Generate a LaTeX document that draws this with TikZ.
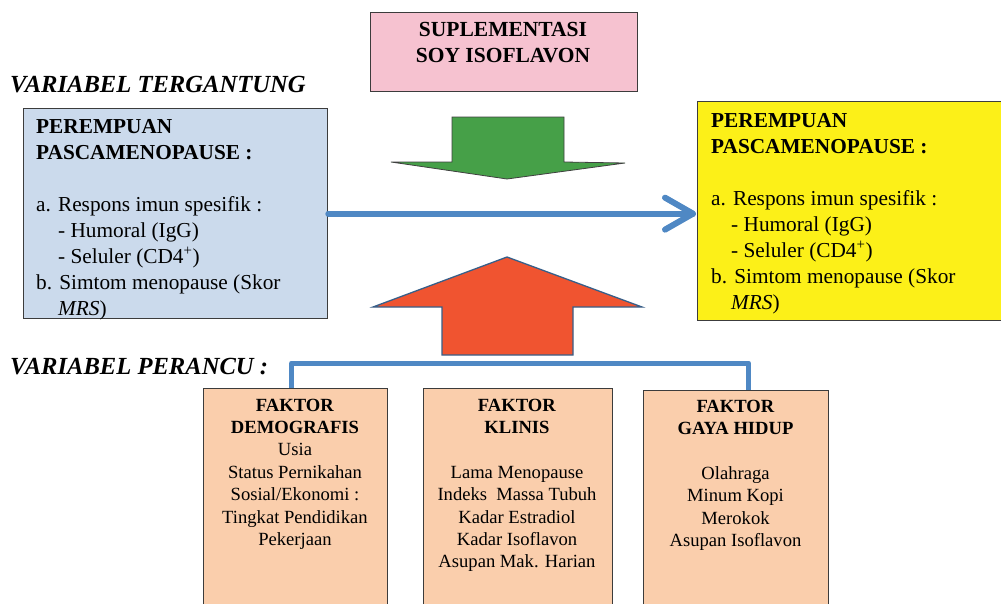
\documentclass[tikz,border=0pt]{standalone}
\usepackage{fontspec}
\setmainfont{Liberation Serif}
\usetikzlibrary{calc}
\definecolor{pinkfill}{RGB}{246,194,208}
\definecolor{bluefill}{RGB}{203,218,236}
\definecolor{yellowfill}{RGB}{252,240,24}
\definecolor{peachfill}{RGB}{250,206,172}
\definecolor{greenfill}{RGB}{70,160,72}
\definecolor{redfill}{RGB}{240,84,48}
\definecolor{linkblue}{RGB}{79,136,196}
\definecolor{edge}{RGB}{60,60,60}
\begin{document}
\begin{tikzpicture}[x=1pt,y=-1pt,
  box/.style={draw=edge,line width=1.3pt,anchor=north west,inner sep=0pt},
  bigtext/.style={anchor=north west,inner sep=0pt,align=left,font=\fontsize{21.3}{26}\selectfont},
  smalltext/.style={anchor=north,inner sep=0pt,align=center,font=\fontsize{18.6}{22.4}\selectfont},
  titletext/.style={anchor=base west,inner sep=0pt,font=\fontsize{24.6}{28}\selectfont\bfseries\itshape},
  harrow/.style={draw=linkblue,line width=6pt,line cap=round,line join=round},
  conn/.style={draw=linkblue,line width=5pt,line join=round}]
\useasboundingbox[fill=white] (0,0) rectangle (1001,603);

% top supplement box
\node[box,fill=pinkfill,minimum width=267pt,minimum height=79pt] (sup) at (370,12) {};
\node[anchor=north,inner sep=0pt,align=center,font=\fontsize{21.5}{26}\selectfont\bfseries] (suptxt) at (503,22.5) {SUPLEMENTASI\\SOY ISOFLAVON};

% titles
\node[titletext] (t1) at (10,92) {VARIABEL TERGANTUNG};
\node[titletext] (t2) at (10,374) {VARIABEL PERANCU :};

% dependent variable box
\node[box,fill=bluefill,minimum width=304pt,minimum height=210pt] (dep) at (23,108) {};
\node[bigtext] (deptxt) at (36,119) {\textbf{PEREMPUAN}\\\textbf{PASCAMENOPAUSE :}\\[26pt]a. Respons imun spesifik :\\\hspace*{22pt}- Humoral (IgG)\\\hspace*{22pt}- Seluler (CD4\textsuperscript{+})\\b. Simtom menopause (Skor\\\hspace*{22pt}\textit{MRS})};

% result box
\node[box,fill=yellowfill,minimum width=310pt,minimum height=219pt] (res) at (697,101) {};
\node[bigtext] (restxt) at (711,113) {\textbf{PEREMPUAN}\\\textbf{PASCAMENOPAUSE :}\\[26pt]a. Respons imun spesifik :\\\hspace*{20pt}- Humoral (IgG)\\\hspace*{20pt}- Seluler (CD4\textsuperscript{+})\\b. Simtom menopause (Skor\\\hspace*{20pt}\textit{MRS})};

% green down arrow
\filldraw[fill=greenfill,draw=black!75,line width=0.8pt,line join=miter]
  (452,117) -- (564,117) -- (564,162) -- (625,163) -- (507,179) -- (391,162) -- (452,162) -- cycle;

% red up arrow
\filldraw[fill=redfill,draw=linkblue!70!black,line width=1.3pt,line join=miter]
  (507,257) -- (642,307) -- (573,307) -- (573,355) -- (442,355) -- (442,307) -- (373,307) -- cycle;

% horizontal arrow
\coordinate (tip) at ($(dep.east -| res.west)+(-4pt,0)$);
\draw[harrow] (dep.east) -- (tip);
\draw[harrow] ($(tip)+(-28,-16)$) -- (tip) -- ($(tip)+(-28,16)$);

% confounder boxes
\node[box,fill=peachfill,minimum width=184pt,minimum height=230pt] (f1) at (203,388) {};
\node[box,fill=peachfill,minimum width=189pt,minimum height=230pt] (f2) at (423,388) {};
\node[box,fill=peachfill,minimum width=185pt,minimum height=230pt] (f3) at (643,390) {};

\node[smalltext] (f1txt) at (295,398.5) {\textbf{FAKTOR}\\\textbf{DEMOGRAFIS}\\Usia\\Status Pernikahan\\Sosial/Ekonomi :\\Tingkat Pendidikan\\Pekerjaan};
\node[smalltext] (f2txt) at (517,398.5) {\textbf{FAKTOR}\\\textbf{KLINIS}\\[22.4pt]Lama Menopause\\Indeks\ \ Massa Tubuh\\Kadar Estradiol\\Kadar Isoflavon\\Asupan Mak. Harian};
\node[smalltext] (f3txt) at (735.5,399.5) {\textbf{FAKTOR}\\\textbf{GAYA HIDUP}\\[22.4pt]Olahraga\\Minum Kopi\\Merokok\\Asupan Isoflavon};

% connector bracket
\draw[conn] ([xshift=-4pt]f1.north) -- ++(0,-25) -| ([xshift=12.5pt]f3.north);
\end{tikzpicture}
\end{document}
